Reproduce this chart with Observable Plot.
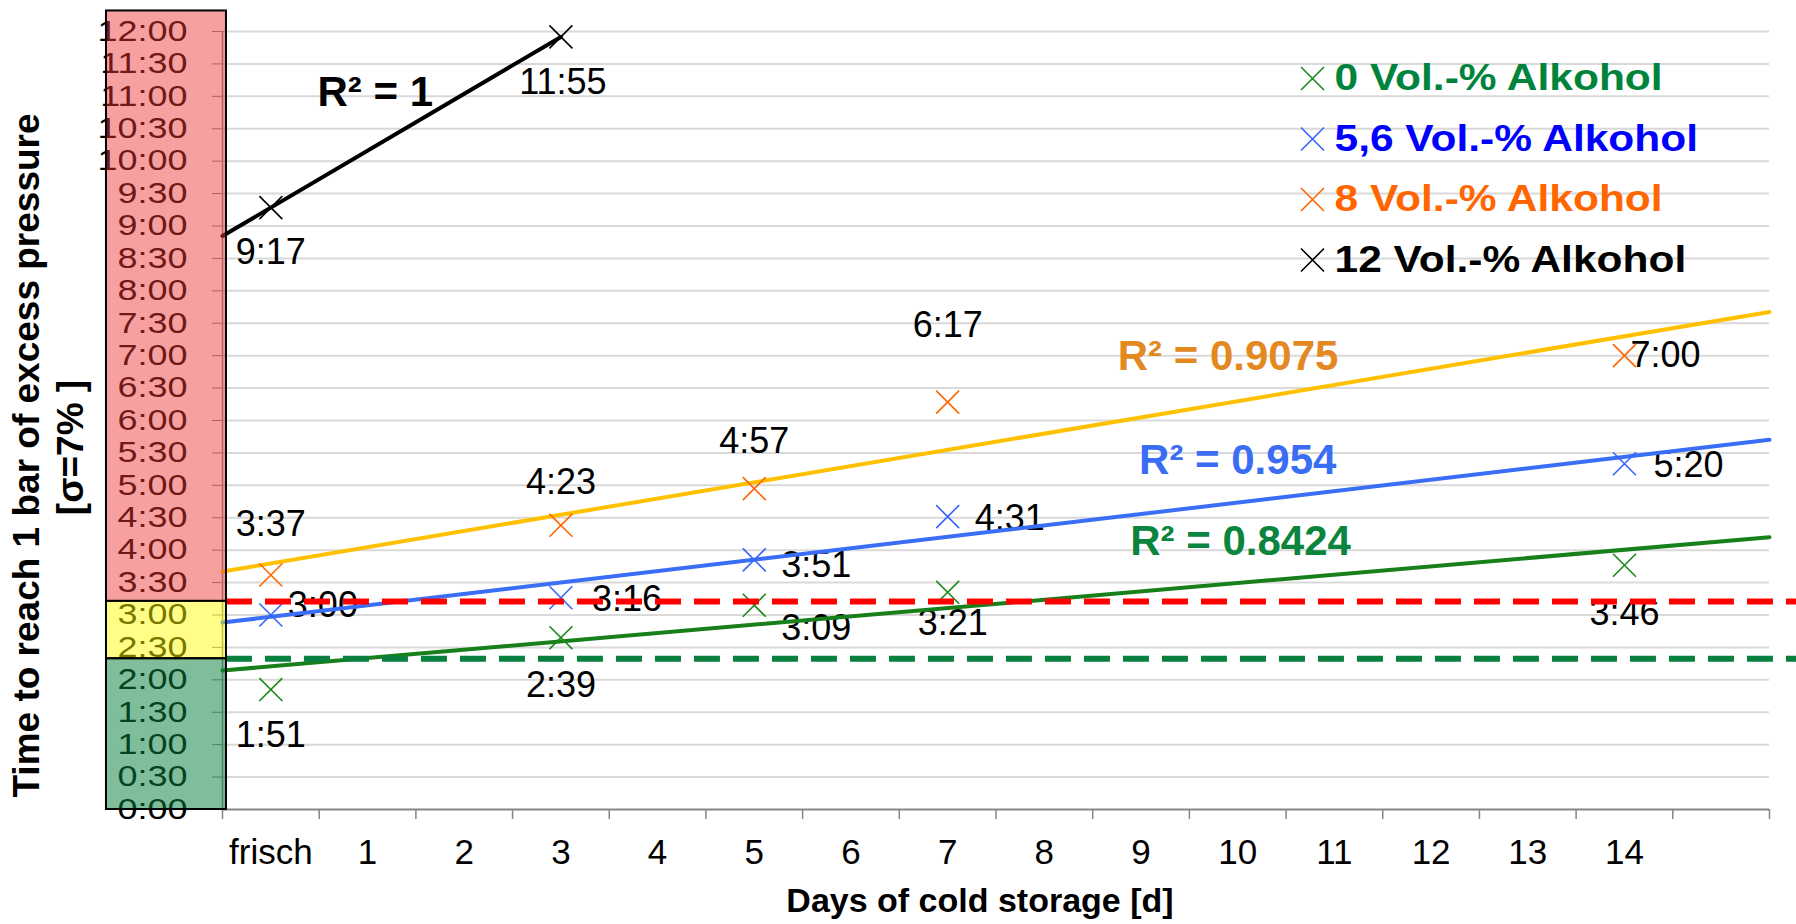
<!DOCTYPE html>
<html>
<head>
<meta charset="utf-8">
<script src="https://cdn.jsdelivr.net/npm/d3@7"></script>
<script src="https://cdn.jsdelivr.net/npm/@observablehq/plot@0.6"></script>
<style>
  html, body { margin: 0; padding: 0; background: #fff; }
  #chart { width: 1796px; height: 924px; overflow: hidden; }
  #chart svg { display: block; }
</style>
</head>
<body>
<div id="chart"></div>
<script>
// ---------------- DATA ----------------
const categories = ["frisch", "1", "2", "3", "4", "5", "6", "7", "8", "9", "10", "11", "12", "13", "14", ""];
const seriesNames = ["0 Vol.-% Alkohol", "5,6 Vol.-% Alkohol", "8 Vol.-% Alkohol", "12 Vol.-% Alkohol"];
const daysMeasured = ["frisch", "3", "5", "7", "14"];
const daysMeasured12 = ["frisch", "3"];
const alc0 = ["1:51", "2:39", "3:09", "3:21", "3:46"];
const alc56 = ["3:00", "3:16", "3:51", "4:31", "5:20"];
const alc8 = ["3:37", "4:23", "4:57", "6:17", "7:00"];
const alc12 = ["9:17", "11:55"];
const r2Labels = ["R² = 0.8424", "R² = 0.954", "R² = 0.9075", "R² = 1"];
const yTickLabels = ["0:00", "0:30", "1:00", "1:30", "2:00", "2:30", "3:00", "3:30", "4:00", "4:30",
  "5:00", "5:30", "6:00", "6:30", "7:00", "7:30", "8:00", "8:30", "9:00", "9:30",
  "10:00", "10:30", "11:00", "11:30", "12:00"];
const thresholdBase = ["3:00", "2:30"];   // upper / lower limit
const sigma = 0.07;                        // σ = 7 %
const yTitle = ["Time to reach 1 bar of excess pressure", "[σ=7% ]"];
const xTitle = "Days of cold storage [d]";

// ---------------- STYLES ----------------
const markerColors = ["#1a8a1a", "#3366ff", "#ff6600", "#000000"];
const trendColors = ["#17801a", "#3b6ef6", "#ffc000", "#000000"];
const legendColors = ["#00843c", "#0000ff", "#ff6600", "#000000"];
const r2Colors = ["#0b843e", "#3b6cf4", "#e3891f", "#000000"];
const trendExtent = ["axis", "axis", "axis", "last"];
// label offsets per point: [dx, dy, anchor]
const labelPos = [
  [[0, 46, "middle"], [0, 48, "middle"], [27, 23, "start"], [5, 31, "middle"], [0, 48, "middle"]],
  [[17, -10, "start"], [31, 2, "start"], [27, 6, "start"], [27, 2, "start"], [29, 2, "start"]],
  [[0, -51, "middle"], [0, -43, "middle"], [0, -47, "middle"], [0, -77, "middle"], [6, 0, "start"]],
  [[0, 45, "middle"], [2, 46, "middle"]]
];
const r2At = [10.03, 10.0, 9.9, 1.08];
const r2Dy = [-41, -42, -46, -54];
const BOX_X = [-1.70, -0.459];
const BOX_TOP = 739;
const DASH_END = 15.8;
const FONT = "'Liberation Sans', Arial, sans-serif";

// ---------------- PREP ----------------
const toMin = s => { const [h, m] = s.split(":").map(Number); return h * 60 + m; };
const xDomain = [-0.5, categories.length - 0.5];
const boundaries = d3.range(categories.length + 1).map(i => i - 0.5);
const yTicks = yTickLabels.map(toMin);
const tickLabelOf = new Map(yTicks.map((v, i) => [v, yTickLabels[i]]));

const rawSeries = [
  [daysMeasured, alc0], [daysMeasured, alc56], [daysMeasured, alc8], [daysMeasured12, alc12]
];
const series = rawSeries.map(([days, vals], s) => vals.map((v, i) => ({
  s, x: categories.indexOf(days[i]), y: toMin(v), label: v
})));

function fit(pts) {
  const mx = d3.mean(pts, d => d.x), my = d3.mean(pts, d => d.y);
  let sxy = 0, sxx = 0;
  for (const p of pts) { sxy += (p.x - mx) * (p.y - my); sxx += (p.x - mx) ** 2; }
  const b = sxy / sxx;
  return { a: my - b * mx, b };
}
const fits = series.map(fit);
const trends = series.map((pts, s) => {
  const f = fits[s];
  const x0 = xDomain[0];
  const x1 = trendExtent[s] === "last" ? d3.max(pts, d => d.x) : xDomain[1];
  return [x0, x1].map(x => ({ x, y: f.a + f.b * x }));
});

const upper = toMin(thresholdBase[0]) * (1 + sigma);
const lower = toMin(thresholdBase[1]) * (1 - sigma);

// ---------------- MARKS ----------------
const marks = [];
// gridlines
marks.push(Plot.ruleY(yTicks.filter(v => v > 0), { stroke: "#d9d9d9", strokeWidth: 2 }));
// axis lines
marks.push(Plot.ruleX([xDomain[0]], { stroke: "#868686", strokeWidth: 1.5 }));
marks.push(Plot.ruleY([0], { stroke: "#868686", strokeWidth: 2 }));
// y axis (ticks + labels)
marks.push(Plot.axisY({
  ticks: yTicks, tickFormat: d => tickLabelOf.get(d), tickSize: 10, tickPadding: 25,
  fontSize: 29, stroke: "#868686", fill: "black", label: null
}));
// x axis ticks at category boundaries
marks.push(Plot.axisX({
  ticks: boundaries, tickFormat: () => "", tickSize: 10, stroke: "#868686", strokeWidth: 1.5, label: null
}));
// x category labels
marks.push(Plot.text(categories.map((c, i) => ({ i, c })), {
  x: "i", text: "c", frameAnchor: "bottom", lineAnchor: "middle", dy: 43, fontSize: 35, fill: "black"
}));

// data labels
series.forEach((pts, s) => {
  pts.forEach((p, i) => {
    const [dx, dy, anchor] = labelPos[s][i];
    marks.push(Plot.text([p], {
      x: "x", y: "y", text: "label", dx, dy, textAnchor: anchor, lineAnchor: "middle", fontSize: 36, fill: "black"
    }));
  });
});

// trend lines
trends.forEach((t, s) => {
  marks.push(Plot.line(t, { x: "x", y: "y", stroke: trendColors[s], strokeWidth: 4 }));
});

// markers
series.forEach((pts, s) => {
  marks.push(Plot.dot(pts, {
    x: "x", y: "y", symbol: "times", r: 10.5, fill: "none", stroke: markerColors[s], strokeWidth: 1.6
  }));
});

// R² labels
r2Labels.forEach((lab, s) => {
  const x = r2At[s];
  marks.push(Plot.text([{ x, y: fits[s].a + fits[s].b * x, lab }], {
    x: "x", y: "y", text: "lab", dy: r2Dy[s], lineAnchor: "middle", fontSize: 42, fontWeight: "bold", fill: r2Colors[s]
  }));
});

// threshold dashed lines
const thresholds = [{ v: upper, c: "#ff0000" }, { v: lower, c: "#0a8040" }];
thresholds.forEach(t => {
  marks.push(Plot.ruleY([t], {
    y: "v", x1: () => BOX_X[1], x2: () => DASH_END,
    stroke: t.c, strokeWidth: 6, strokeDasharray: "26,13"
  }));
});

// coloured zone box over the y labels
const zones = [
  { lo: upper, hi: BOX_TOP, fill: "#ee3636", op: 0.47 },
  { lo: lower, hi: upper, fill: "#ffff00", op: 0.47 },
  { lo: 0, hi: lower, fill: "#0a8040", op: 0.52 }
];
zones.forEach(z => {
  marks.push(Plot.rect([z], {
    x1: () => BOX_X[0], x2: () => BOX_X[1], y1: "lo", y2: "hi",
    fill: z.fill, fillOpacity: z.op, stroke: "black", strokeWidth: 2
  }));
});

// legend (inside the plot, top right)
seriesNames.forEach((name, s) => {
  marks.push(Plot.dot([name], {
    frameAnchor: "top-left", dx: 1090, dy: 47 + s * 60.5, symbol: "times", r: 10.5,
    fill: "none", stroke: markerColors[s], strokeWidth: 1.6
  }));
  marks.push(Plot.text([name], {
    text: d => d, frameAnchor: "top-left", dx: 1112, dy: 47 + s * 60.5, textAnchor: "start", lineAnchor: "middle",
    fontSize: 36, fontWeight: "bold", fill: legendColors[s]
  }));
});

// axis titles
marks.push(Plot.text([yTitle[0]], {
  text: d => d, frameAnchor: "left", rotate: -90, textAnchor: "middle", lineAnchor: "middle",
  dx: -195, dy: 35, fontSize: 37, fontWeight: "bold", fill: "black"
}));
marks.push(Plot.text([yTitle[1]], {
  text: d => d, frameAnchor: "left", rotate: -90, textAnchor: "middle", lineAnchor: "middle",
  dx: -151, dy: 27, fontSize: 37, fontWeight: "bold", fill: "black"
}));
marks.push(Plot.text([xTitle], {
  text: d => d, frameAnchor: "bottom", textAnchor: "middle", lineAnchor: "middle",
  dx: -16, dy: 92, fontSize: 34, fontWeight: "bold", fill: "black"
}));

const chart = Plot.plot({
  width: 1796, height: 924,
  marginLeft: 222, marginRight: 27, marginTop: 31, marginBottom: 115,
  x: { type: "linear", domain: xDomain, axis: null },
  y: { type: "linear", domain: [0, 720], axis: null },
  style: { fontFamily: FONT, fontSize: "32px", color: "black", background: "white" },
  marks
});
document.getElementById("chart").appendChild(chart);

// horizontal stretch of wide-looking texts (as in the reference)
function stretch(el, f) {
  const L = el.getComputedTextLength();
  if (L > 0) { el.setAttribute("textLength", (L * f).toFixed(1)); el.setAttribute("lengthAdjust", "spacingAndGlyphs"); }
}
const legendSet = new Set(seriesNames);
chart.querySelectorAll("text").forEach(t => { if (legendSet.has(t.textContent)) stretch(t, 1.18); });
chart.querySelectorAll('g[aria-label="y-axis tick label"] text').forEach(t => stretch(t, 1.24));
</script>
</body>
</html>
